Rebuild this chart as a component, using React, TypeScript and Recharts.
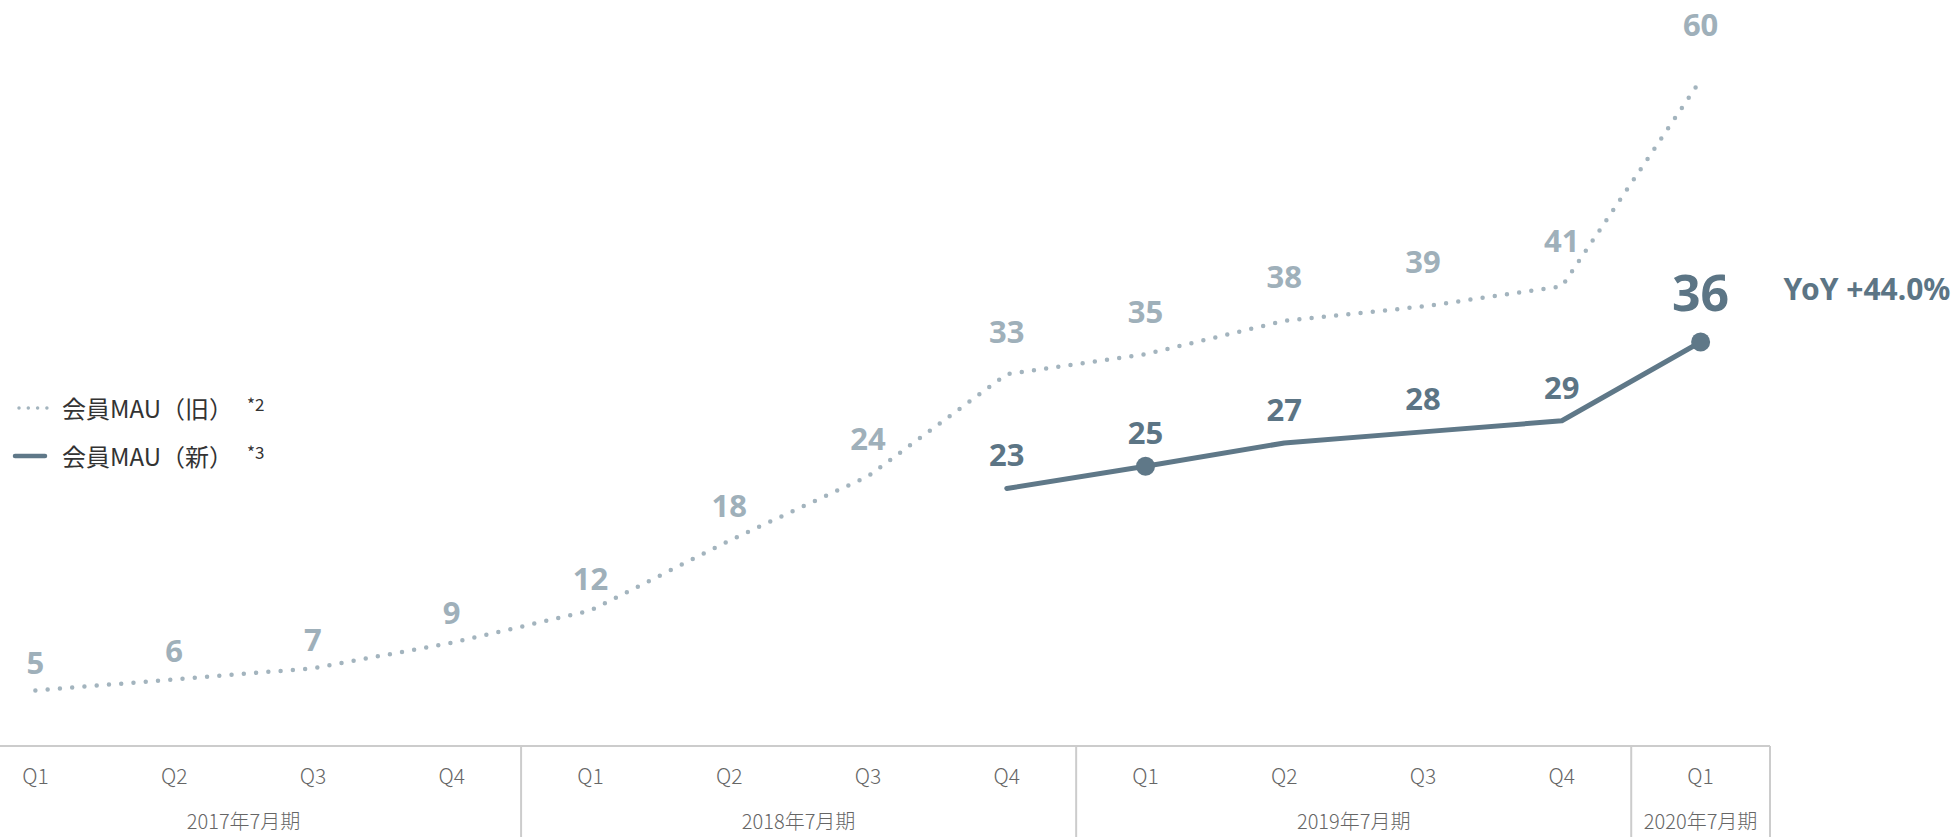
import React from 'react';
import { LineChart, Line, XAxis, YAxis, Legend } from 'recharts';

const categories = ['Q1', 'Q2', 'Q3', 'Q4', 'Q1', 'Q2', 'Q3', 'Q4', 'Q1', 'Q2', 'Q3', 'Q4', 'Q1'];
const fiscalYears = ['2017年7月期', '2018年7月期', '2019年7月期', '2020年7月期'];
const fiscalYearSpans = [4, 4, 4, 1];
const oldMau = [5.0, 6.0, 7.0, 9.3, 12.2, 18.5, 24.3, 33.5, 35.3, 38.3, 39.6, 41.4, 60.0];
const newMau = [null, null, null, null, null, null, null, 23.2, 25.2, 27.3, 28.3, 29.3, 36.4];
const seriesNames = ['会員MAU（旧）', '会員MAU（新）'];
const seriesNotes = ['*2', '*3'];
const yoyText = 'YoY +44.0%';
const highlightIdx = [8, 12];

const data = categories.map((q, i) => ({ idx: i, q, oldMau: oldMau[i], newMau: newMau[i] }));

const W = 1953;
const H = 837;
const SHIFT = 34;
const CHART_W = W + SHIFT;
const MARGIN = { top: 80, right: 183, bottom: 0, left: 0 };
const AXIS_H = 91;
const PLOT_W = CHART_W - MARGIN.left - MARGIN.right;
const BAND = PLOT_W / categories.length;

const OLD_COLOR = '#a3b4be';
const OLD_LABEL = '#9fb0ba';
const NEW_COLOR = '#5f7888';
const NEW_LABEL = '#5c7585';
const AXIS_COLOR = '#cccccc';
const FONT_NUM = "'Noto Sans', 'Noto Sans CJK JP', sans-serif";
const FONT_CJK = "'Noto Sans CJK JP', 'Noto Sans', sans-serif";

const groupStarts: number[] = [];
fiscalYearSpans.reduce((acc, n) => {
  groupStarts.push(acc);
  return acc + n;
}, 0);

function AxisTick(props: any) {
  const { x, y, payload } = props;
  const i = Number(payload.value);
  const g = groupStarts.indexOf(i);
  const parts: any[] = [];
  parts.push(
    <text key="q" x={x} y={y + 29} textAnchor="middle" dominantBaseline="central"
      fontFamily={FONT_CJK} fontWeight={300} fontSize={21} fill="#666">
      {categories[i]}
    </text>
  );
  if (g >= 0) {
    const left = x - BAND / 2;
    const span = fiscalYearSpans[g];
    parts.push(<line key="l" x1={left} x2={left} y1={y} y2={y + AXIS_H} stroke={AXIS_COLOR} strokeWidth={2} />);
    parts.push(
      <text key="y" x={left + (span * BAND) / 2} y={y + 74} textAnchor="middle" dominantBaseline="central"
        fontFamily={FONT_CJK} fontWeight={300} fontSize={20} fill="#666">
        {fiscalYears[g]}
      </text>
    );
    if (g === fiscalYearSpans.length - 1) {
      const right = left + span * BAND;
      parts.push(<line key="r" x1={right} x2={right} y1={y} y2={y + AXIS_H} stroke={AXIS_COLOR} strokeWidth={2} />);
    }
  }
  return <g>{parts}</g>;
}

function OldLabel(props: any) {
  const { x, y, value, index } = props;
  if (value == null) return null;
  const off = 26 + 0.5 * Number(value);
  return (
    <text key={`ol${index}`} x={x} y={y - off} textAnchor="middle" dominantBaseline="central"
      fontFamily={FONT_NUM} fontWeight={700} fontSize={31} fill={OLD_LABEL}>
      {Math.floor(Number(value))}
    </text>
  );
}

function NewLabel(props: any) {
  const { x, y, value, index } = props;
  if (value == null) return null;
  const last = index === categories.length - 1;
  if (last) {
    return (
      <g key={`nl${index}`}>
        <text x={x} y={y - 50} textAnchor="middle" dominantBaseline="central"
          fontFamily={FONT_NUM} fontWeight={700} fontSize={50} fill={NEW_LABEL}>
          {Math.floor(Number(value))}
        </text>
        <text x={x + 83} y={y - 53} textAnchor="start" dominantBaseline="central"
          fontFamily={FONT_NUM} fontWeight={700} fontSize={30} fill={NEW_LABEL}>
          {yoyText}
        </text>
      </g>
    );
  }
  return (
    <text key={`nl${index}`} x={x} y={y - 34} textAnchor="middle" dominantBaseline="central"
      fontFamily={FONT_NUM} fontWeight={700} fontSize={31} fill={NEW_LABEL}>
      {Math.floor(Number(value))}
    </text>
  );
}

function NewDot(props: any) {
  const { cx, cy, index } = props;
  if (!highlightIdx.includes(index) || cy == null) return <g key={`nd${index}`} />;
  return <circle key={`nd${index}`} cx={cx} cy={cy} r={9.5} fill={NEW_COLOR} />;
}

function LegendContent() {
  const rows = [
    { name: seriesNames[0], note: seriesNotes[0], dotted: true },
    { name: seriesNames[1], note: seriesNotes[1], dotted: false },
  ];
  return (
    <div style={{ fontFamily: FONT_CJK, color: '#333' }}>
      {rows.map((r) => (
        <div key={r.name} style={{ height: 48, display: 'flex', alignItems: 'center' }}>
          <svg width={60} height={12} style={{ flex: 'none' }}>
            {r.dotted ? (
              <line x1={19} x2={47} y1={6} y2={6} stroke={OLD_COLOR} strokeWidth={3.5}
                strokeDasharray="0 9.3" strokeLinecap="round" />
            ) : (
              <line x1={15} x2={45} y1={6} y2={6} stroke={NEW_COLOR} strokeWidth={4.5} strokeLinecap="round" />
            )}
          </svg>
          <span style={{ fontSize: 24, marginLeft: 2, lineHeight: 1 }}>{r.name}</span>
          <span style={{ fontSize: 17, marginLeft: 14, position: 'relative', top: -5, lineHeight: 1 }}>{r.note}</span>
        </div>
      ))}
    </div>
  );
}

export default function App() {
  return (
    <div style={{ position: 'absolute', left: 0, top: 0, width: W, height: H, overflow: 'hidden', background: '#fff' }}>
      <div style={{ position: 'absolute', left: -SHIFT, top: 0 }}>
        <LineChart width={CHART_W} height={H} data={data} margin={MARGIN}>
          <XAxis dataKey="idx" scale="band" interval={0} height={AXIS_H} tickSize={0} tickMargin={0}
            tickLine={false} axisLine={{ stroke: AXIS_COLOR, strokeWidth: 2 }} tick={<AxisTick />} />
          <YAxis hide domain={[0, 60]} />
          <Legend layout="vertical" verticalAlign="middle" align="center"
            wrapperStyle={{ position: 'absolute', left: SHIFT, top: 384, width: 340, height: 100 }}
            content={<LegendContent />} />
          <Line dataKey="oldMau" name={seriesNames[0]} type="linear" stroke={OLD_COLOR} strokeWidth={4.5}
            strokeDasharray="0 12.3" strokeLinecap="round" dot={false} activeDot={false}
            isAnimationActive={false} label={<OldLabel />} />
          <Line dataKey="newMau" name={seriesNames[1]} type="linear" stroke={NEW_COLOR} strokeWidth={5}
            strokeLinecap="round" strokeLinejoin="round" dot={<NewDot />} activeDot={false}
            isAnimationActive={false} label={<NewLabel />} />
        </LineChart>
      </div>
    </div>
  );
}
